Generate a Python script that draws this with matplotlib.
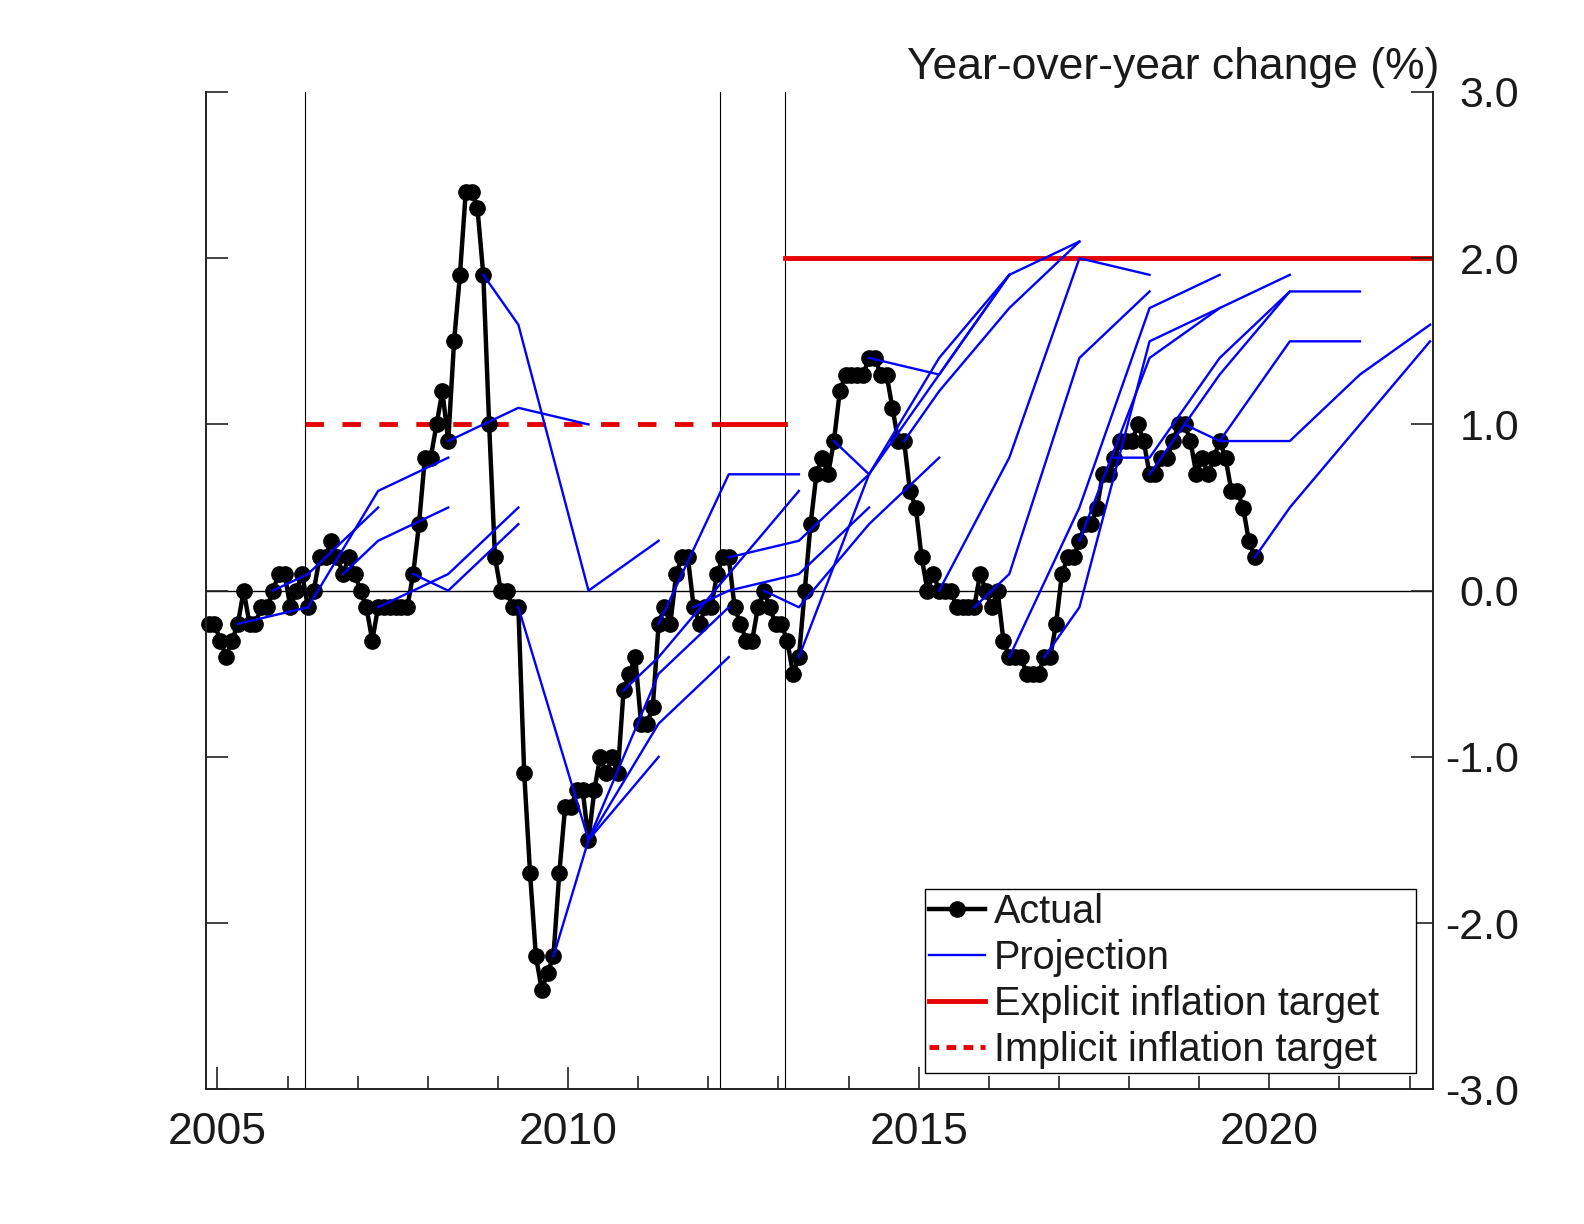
import matplotlib
matplotlib.use("Agg")
import matplotlib.pyplot as plt
from matplotlib.lines import Line2D
from matplotlib.ticker import FixedLocator, MultipleLocator, FormatStrFormatter

plt.rcParams['font.family'] = ['Liberation Sans', 'DejaVu Sans']
plt.rcParams['axes.unicode_minus'] = False

# actual core CPI, y/y %, monthly from Nov 2004
actual_start = (2004, 11)
actual = [
    -0.2, -0.2,
    -0.3, -0.4, -0.3, -0.2, 0.0, -0.2, -0.2, -0.1, -0.1, 0.0, 0.1, 0.1,      # 2005
    -0.1, 0.0, 0.1, -0.1, 0.0, 0.2, 0.2, 0.3, 0.2, 0.1, 0.2, 0.1,            # 2006
    0.0, -0.1, -0.3, -0.1, -0.1, -0.1, -0.1, -0.1, -0.1, 0.1, 0.4, 0.8,      # 2007
    0.8, 1.0, 1.2, 0.9, 1.5, 1.9, 2.4, 2.4, 2.3, 1.9, 1.0, 0.2,              # 2008
    0.0, 0.0, -0.1, -0.1, -1.1, -1.7, -2.2, -2.4, -2.3, -2.2, -1.7, -1.3,    # 2009
    -1.3, -1.2, -1.2, -1.5, -1.2, -1.0, -1.1, -1.0, -1.1, -0.6, -0.5, -0.4,  # 2010
    -0.8, -0.8, -0.7, -0.2, -0.1, -0.2, 0.1, 0.2, 0.2, -0.1, -0.2, -0.1,     # 2011
    -0.1, 0.1, 0.2, 0.2, -0.1, -0.2, -0.3, -0.3, -0.1, 0.0, -0.1, -0.2,      # 2012
    -0.2, -0.3, -0.5, -0.4, 0.0, 0.4, 0.7, 0.8, 0.7, 0.9, 1.2, 1.3,          # 2013
    1.3, 1.3, 1.3, 1.4, 1.4, 1.3, 1.3, 1.1, 0.9, 0.9, 0.6, 0.5,              # 2014
    0.2, 0.0, 0.1, 0.0, 0.0, 0.0, -0.1, -0.1, -0.1, -0.1, 0.1, 0.0,          # 2015
    -0.1, 0.0, -0.3, -0.4, -0.4, -0.4, -0.5, -0.5, -0.5, -0.4, -0.4, -0.2,   # 2016
    0.1, 0.2, 0.2, 0.3, 0.4, 0.4, 0.5, 0.7, 0.7, 0.8, 0.9, 0.9,              # 2017
    0.9, 1.0, 0.9, 0.7, 0.7, 0.8, 0.8, 0.9, 1.0, 1.0, 0.9, 0.7,              # 2018
    0.8, 0.7, 0.8, 0.9, 0.8, 0.6, 0.6, 0.5, 0.3, 0.2,                        # 2019
]

# outlook releases (year, month) and fiscal-year projections starting with that FY
proj_release = [
    (2005, 4), (2005, 10), (2006, 4), (2006, 10), (2007, 4), (2007, 10),
    (2008, 4), (2008, 10), (2009, 4), (2009, 10), (2010, 4), (2010, 10),
    (2011, 4), (2011, 10), (2012, 4), (2012, 10), (2013, 4), (2013, 10),
    (2014, 4), (2014, 10), (2015, 4), (2015, 10), (2016, 4), (2016, 10),
    (2017, 4), (2017, 10), (2018, 4), (2018, 10), (2019, 4), (2019, 10),
]
proj_values = [
    [-0.1], [0.1, 0.5], [0.6, 0.8], [0.3, 0.5], [0.1, 0.5], [0.0, 0.4],
    [1.1, 1.0], [1.6, 0.0, 0.3], [-1.5, -1.0], [-1.5, -0.8, -0.4], [-0.5, -0.1], [-0.4, 0.1, 0.6],
    [0.7, 0.7], [0.0, 0.1, 0.5], [0.3, 0.7], [-0.1, 0.4, 0.8], [0.7, 1.4, 1.9], [0.7, 1.3, 1.9],
    [1.3, 1.9, 2.1], [1.2, 1.7, 2.1], [0.8, 2.0, 1.9], [0.1, 1.4, 1.8], [0.5, 1.7, 1.9], [-0.1, 1.5, 1.7],
    [1.4, 1.7, 1.9], [0.8, 1.4, 1.8], [1.3, 1.8, 1.8], [0.9, 1.5, 1.5], [0.9, 1.3, 1.6], [0.5, 1.0, 1.5],
]

regime_dates = [2006.25, 2012.17, 2013.09]
implicit_target = 1.0
explicit_targets = [1.0, 2.0]

RED = '#e60000'
BLUE = '#0000ff'
TXT = '#1a1a1a'


def month_x(y, m):
    return y + (m - 0.5) / 12


act_x = []
y, m = actual_start
for v in actual:
    act_x.append(month_x(y, m))
    m += 1
    if m > 12:
        y, m = y + 1, 1

fig = plt.figure(figsize=(15.84, 12.24), dpi=100)
ax = fig.add_axes([0.12986, 0.11005, 0.77481, 0.81479])
x_min, x_max = 2004 + 10 / 12, 2022 + 4 / 12
ax.set_xlim(x_min, x_max)
ax.set_ylim(-3, 3)

ax.axhline(0, color='black', lw=1.0, zorder=1)
for d in regime_dates:
    ax.axvline(d, color='black', lw=0.8, zorder=1)

# targets
ax.plot([regime_dates[0], regime_dates[1]], [implicit_target] * 2, color=RED, lw=3.5,
        dashes=(3.8, 3.8), dash_capstyle='butt', zorder=1.5)
ax.plot([regime_dates[1], regime_dates[2]], [explicit_targets[0]] * 2, color=RED, lw=3.5, zorder=1.5)
ax.plot([regime_dates[2], x_max], [explicit_targets[1]] * 2, color=RED, lw=3.5, zorder=1.5)

ax.plot(act_x, actual, color='black', lw=3.2, marker='o', ms=11, zorder=2, clip_on=False)

# projections start at the latest actual and run through fiscal years (plotted at next April)
for (ry, rm), vals in zip(proj_release, proj_values):
    i = (ry - actual_start[0]) * 12 + rm - actual_start[1]
    px = [month_x(ry, rm)] + [ry + 1 + k + 3.5 / 12 for k in range(len(vals))]
    py = [actual[i]] + vals
    ax.plot(px, py, color=BLUE, lw=1.7, zorder=3)

for s in ['left', 'right', 'bottom']:
    ax.spines[s].set_linewidth(1.4)
    ax.spines[s].set_color('#222222')
ax.spines['top'].set_visible(False)

ax.xaxis.set_major_locator(FixedLocator([2005, 2010, 2015, 2020]))
ax.xaxis.set_major_formatter(FormatStrFormatter('%d'))
ax.xaxis.set_minor_locator(MultipleLocator(1))
ax.tick_params(axis='x', which='major', direction='in', length=16, width=1.2,
               pad=16, labelsize=32, colors='#222222', labelcolor=TXT)
ax.tick_params(axis='x', which='minor', direction='in', length=9.5, width=1.2, colors='#222222')

ax.yaxis.set_major_locator(FixedLocator(range(-3, 4)))
ax.yaxis.set_major_formatter(FormatStrFormatter('%.1f'))
ax.tick_params(axis='y', which='major', direction='in', length=16, width=1.2,
               left=True, right=True, labelleft=False, labelright=True,
               pad=62, labelsize=31, colors='#222222', labelcolor=TXT)
for lbl in ax.yaxis.get_majorticklabels():
    lbl.set_horizontalalignment('right')

ax.text(1.0053, 1.025, 'Year-over-year change (%)', transform=ax.transAxes,
        ha='right', va='center', fontsize=32, color=TXT)

handles = [
    Line2D([], [], color='black', lw=3.2, marker='o', ms=11),
    Line2D([], [], color=BLUE, lw=1.7),
    Line2D([], [], color=RED, lw=3.5),
    Line2D([], [], color=RED, lw=3.5, dashes=(2, 1.5)),
]
labels = ['Actual', 'Projection', 'Explicit inflation target', 'Implicit inflation target']
leg = ax.legend(handles, labels, loc='lower left', bbox_to_anchor=(0.5861, 0.0163, 0.4001, 0.1905),
                mode='expand', borderaxespad=0, fontsize=28.5, frameon=True, fancybox=False,
                edgecolor='black', framealpha=1, handlelength=1.42, handletextpad=0.22,
                labelspacing=0.2, borderpad=0.1)
leg.get_frame().set_linewidth(1.0)
for t in leg.get_texts():
    t.set_color(TXT)

fig.savefig('out.png', dpi=100)
